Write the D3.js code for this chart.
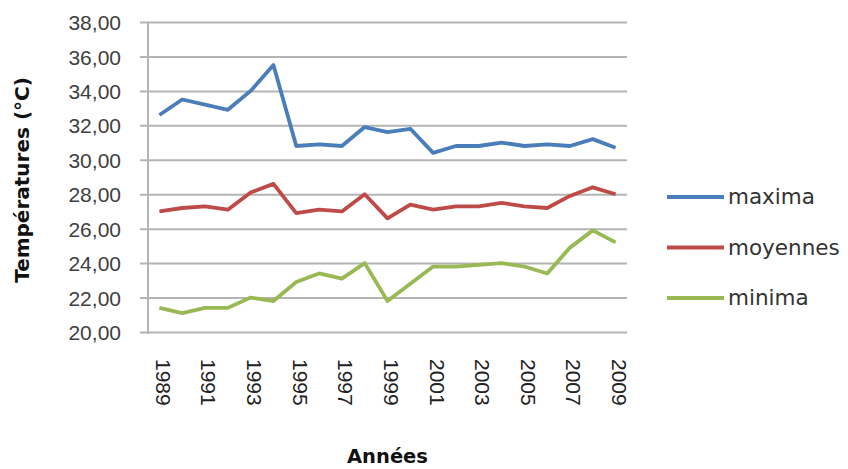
<!DOCTYPE html>
<html>
<head>
<meta charset="utf-8">
<script src="https://cdn.jsdelivr.net/npm/d3@7"></script>
<style>
  body { margin: 0; background: #fff; }
  svg { display: block; font-family: "DejaVu Sans", sans-serif; }
</style>
</head>
<body>
<div id="chart"></div>
<script>
const years = d3.range(1989, 2010);
const yearLabels = [1989, 1991, 1993, 1995, 1997, 1999, 2001, 2003, 2005, 2007, 2009];
const yTicks = [20, 22, 24, 26, 28, 30, 32, 34, 36, 38];

const maxima   = [32.6, 33.5, 33.2, 32.9, 34.0, 35.5, 30.8, 30.9, 30.8, 31.9, 31.6,
                  31.8, 30.4, 30.8, 30.8, 31.0, 30.8, 30.9, 30.8, 31.2, 30.7];
const moyennes = [27.0, 27.2, 27.3, 27.1, 28.1, 28.6, 26.9, 27.1, 27.0, 28.0, 26.6,
                  27.4, 27.1, 27.3, 27.3, 27.5, 27.3, 27.2, 27.9, 28.4, 28.0];
const minima   = [21.4, 21.1, 21.4, 21.4, 22.0, 21.8, 22.9, 23.4, 23.1, 24.0, 21.8,
                  22.8, 23.8, 23.8, 23.9, 24.0, 23.8, 23.4, 24.9, 25.9, 25.2];

const seriesNames = ["maxima", "moyennes", "minima"];
const seriesColors = ["#4a7ebb", "#be4b48", "#98b954"];
const seriesValues = [maxima, moyennes, minima];

const W = 848, H = 469;
const plot = { left: 148, right: 627, top: 22, bottom: 332 };

const svg = d3.select("#chart").append("svg")
    .attr("width", W)
    .attr("height", H);

const x = d3.scaleBand()
    .domain(years)
    .range([plot.left, plot.right]);

const y = d3.scaleLinear()
    .domain([20, 38])
    .range([plot.bottom, plot.top]);

const fr = d3.formatLocale({ decimal: ",", thousands: " ", grouping: [3], currency: ["", " €"] });
const fmt = fr.format(".2f");

// grid lines + y labels
const yAxis = svg.append("g")
    .attr("transform", "translate(" + plot.left + ",0)")
    .call(d3.axisLeft(y)
        .tickValues(yTicks)
        .tickSize(-(plot.right - plot.left))
        .tickSizeOuter(0)
        .tickPadding(27)
        .tickFormat(fmt));
yAxis.select(".domain").remove();
yAxis.selectAll(".tick line")
    .attr("x1", -8)
    .attr("stroke", "#b4b4b4")
    .attr("stroke-width", 2);
yAxis.selectAll(".tick text")
    .attr("fill", "#404040")
    .style("font-size", "21px")
    .attr("dy", "0.36em");

// vertical axis line
svg.append("line")
    .attr("x1", plot.left).attr("x2", plot.left)
    .attr("y1", plot.top).attr("y2", plot.bottom + 2)
    .attr("stroke", "#b4b4b4")
    .attr("stroke-width", 2);

// x labels
const xAxis = svg.append("g")
    .attr("transform", "translate(0," + plot.bottom + ")")
    .call(d3.axisBottom(x).tickValues(yearLabels).tickSize(0).tickPadding(0));
xAxis.select(".domain").remove();
xAxis.selectAll(".tick text")
    .attr("transform", "translate(4,27) rotate(90)")
    .attr("text-anchor", "start")
    .attr("dy", "0.36em")
    .attr("x", 0).attr("y", 0)
    .attr("fill", "#222")
    .style("font-size", "21px");

// lines
const line = d3.line()
    .x((d, i) => x(years[i]) + x.bandwidth() / 2)
    .y(d => y(d));

seriesValues.forEach((vals, k) => {
    svg.append("path")
        .datum(vals)
        .attr("d", line)
        .attr("fill", "none")
        .attr("stroke", seriesColors[k])
        .attr("stroke-width", 3.8)
        .attr("stroke-linejoin", "round");
});

// legend
const legend = svg.append("g");
seriesNames.forEach((name, k) => {
    const ly = 197 + k * 50.5;
    legend.append("line")
        .attr("x1", 667).attr("x2", 724)
        .attr("y1", ly).attr("y2", ly)
        .attr("stroke", seriesColors[k])
        .attr("stroke-width", 4);
    legend.append("text")
        .attr("x", 728).attr("y", ly)
        .attr("dy", "0.33em")
        .attr("fill", "#333")
        .style("font-size", "21.5px")
        .text(name);
});

// axis titles
svg.append("text")
    .attr("x", (plot.left + plot.right) / 2)
    .attr("y", 463)
    .attr("text-anchor", "middle")
    .style("font-size", "19.5px")
    .style("font-weight", "bold")
    .attr("fill", "#111")
    .text("Années");

svg.append("text")
    .attr("transform", "translate(29,180) rotate(-90)")
    .attr("text-anchor", "middle")
    .style("font-size", "20px")
    .style("font-weight", "bold")
    .attr("fill", "#111")
    .text("Températures (°C)");
</script>
</body>
</html>
